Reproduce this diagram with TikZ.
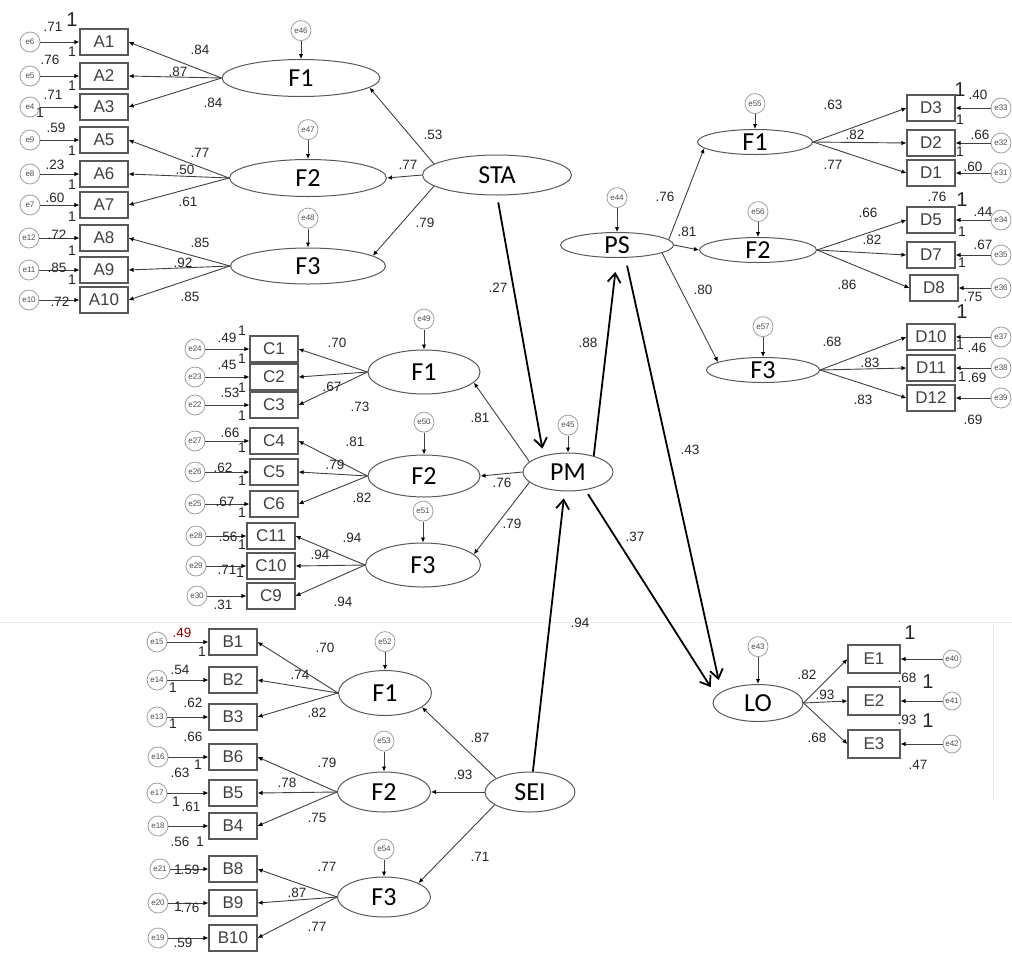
\documentclass[tikz,border=0pt]{standalone}
\usepackage{fontspec}
\newfontfamily\arialf{Liberation Sans}
\newfontfamily\calf{Carlito}
\usetikzlibrary{arrows.meta,positioning,shapes.geometric}

\begin{document}
\begin{tikzpicture}[x=1pt,y=-1pt,>=Latex,
  every node/.style={inner sep=0pt},
  ind/.style={draw=gray!70!black,line width=1.1pt,minimum width=48pt,minimum height=26pt,
    font=\arialf\fontsize{17}{17}\selectfont,text=black!75},
  lat/.style={ellipse,draw=gray!70!black,line width=1pt,text height=17pt,text depth=0pt,
    font=\calf\fontsize{26}{26}\selectfont},
  err/.style={circle,draw=gray!75,line width=0.8pt,minimum size=20pt,
    font=\arialf\fontsize{8}{8}\selectfont,text=gray!60!black},
  val/.style={font=\arialf\fontsize{13.5}{13.5}\selectfont,text=black!85},
  one/.style={font=\arialf\fontsize{14}{14}\selectfont,text=black!85},
  bigone/.style={font=\arialf\fontsize{20}{20}\selectfont,text=black!85},
  meas/.style={draw=gray!50!black,line width=0.9pt,-{Latex[length=5pt,width=4.5pt,color=black]}},
  struct/.style={black,line width=1.8pt,-{Straight Barb[length=9pt,width=13pt]}}]
\useasboundingbox (0,0) rectangle (1012,954);

% faint scan lines
\draw[gray!15,line width=1pt] (0,622) -- (1012,622);
\draw[gray!15,line width=1pt] (993,622) -- (993,800);

% latent variables
\node[lat,minimum width=158pt,minimum height=37pt] (staf1) at (301,78) {F1};
\node[lat,minimum width=157pt,minimum height=37pt] (staf2) at (308,178) {F2};
\node[lat,minimum width=155pt,minimum height=36pt] (staf3) at (308,266) {F3};
\node[lat,minimum width=149pt,minimum height=40pt] (sta) at (497,175) {STA};
\node[lat,minimum width=112pt,minimum height=44pt] (pmf1) at (424,372) {F1};
\node[lat,minimum width=112pt,minimum height=42pt] (pmf2) at (424,476) {F2};
\node[lat,minimum width=115pt,minimum height=44pt] (pmf3) at (423,565) {F3};
\node[lat,minimum width=90pt,minimum height=38pt] (pm) at (568,472) {PM};
\node[lat,minimum width=93pt,minimum height=45pt] (seif1) at (385,693) {F1};
\node[lat,minimum width=93pt,minimum height=40pt] (seif2) at (384,792) {F2};
\node[lat,minimum width=93pt,minimum height=40pt] (seif3) at (384,897) {F3};
\node[lat,minimum width=90pt,minimum height=40pt] (sei) at (530,792) {SEI};
\node[lat,minimum width=113pt,minimum height=25pt] (ps) at (617,245) {PS};
\node[lat,minimum width=115pt,minimum height=25pt] (psf1) at (755,142) {F1};
\node[lat,minimum width=117pt,minimum height=25pt] (psf2) at (758,250) {F2};
\node[lat,minimum width=113pt,minimum height=25pt] (psf3) at (763,370) {F3};
\node[lat,minimum width=90pt,minimum height=37pt] (lo) at (758,703) {LO};

% residuals of the latent variables
\node[err,above=18pt of staf1] (e46) {e46};
\node[err,above=19pt of staf2] (e47) {e47};
\node[err,above=19pt of staf3] (e48) {e48};
\node[err,above=20pt of pmf1] (e49) {e49};
\node[err,above=22pt of pmf2] (e50) {e50};
\node[err,above=21pt of pmf3] (e51) {e51};
\node[err,above=18pt of seif1] (e52) {e52};
\node[err,above=20pt of seif2] (e53) {e53};
\node[err,above=17pt of seif3] (e54) {e54};
\node[err,above=17pt of pm] (e45) {e45};
\node[err,above=24pt of ps] (e44) {e44};
\node[err,above=15pt of psf1] (e55) {e55};
\node[err,above=15pt of psf2] (e56) {e56};
\node[err,above=20pt of psf3] (e57) {e57};
\node[err,above=27pt of lo] (e43) {e43};
\foreach \e/\f in {e46/staf1,e47/staf2,e48/staf3,e49/pmf1,e50/pmf2,e51/pmf3,
  e52/seif1,e53/seif2,e54/seif3,e45/pm,e44/ps,e55/psf1,e56/psf2,e57/psf3,e43/lo}
  \draw[meas] (\e) -- (\f);

% indicators with their errors
\foreach \n/\e/\x/\ex/\y in {A1/e6/104/30/42,A2/e5/104/30/76,A3/e4/104/30/107,
  A5/e9/104/30/140,A6/e8/104/30/174,A7/e7/104/30/205,A8/e12/104/29/238,
  A9/e11/104/29/270,A10/e10/104/29/300,
  C1/e24/274/195/349,C2/e23/274/195/377,C3/e22/274/195/405,C4/e27/274/195/441,
  C5/e26/274/195/472,C6/e25/274/195/504,C11/e28/271/196/536,C10/e29/271/196/566,
  C9/e30/271/197/596,
  B1/e15/233/157/642,B2/e14/233/157/680,B3/e13/233/157/717,B6/e16/233/158/757,
  B5/e17/233/157/793,B4/e18/233/158/826,B8/e21/233/160/869,B9/e20/233/158/903,
  B10/e19/233/158/938,
  D3/e33/931/1001/108,D2/e32/931/1001/143,D1/e31/931/1001/173,D5/e34/931/1001/220,
  D7/e35/931/1001/255,D8/e36/934/1001/288,D10/e37/931/1001/337,D11/e38/931/1001/368,
  D12/e39/931/1001/398} {
  \node[ind] (\n) at (\x,\y) {\n};
  \node[err] (\e) at (\ex,\y) {\e};
  \draw[meas] (\e) -- (\n);
}
\foreach \n/\e/\y in {E1/e40/659,E2/e41/701,E3/e42/744} {
  \node[ind,minimum width=52pt,minimum height=28pt] (\n) at (874,\y) {\n};
  \node[err,minimum size=18pt] (\e) at (952,\y) {\e};
  \draw[meas] (\e) -- (\n);
}

% loadings
\foreach \f/\n in {staf1/A1,staf1/A2,staf1/A3,staf2/A5,staf2/A6,staf2/A7,
  staf3/A8,staf3/A9,staf3/A10,pmf1/C1,pmf1/C2,pmf1/C3,pmf2/C4,pmf2/C5,pmf2/C6,
  pmf3/C11,pmf3/C10,pmf3/C9,seif1/B1,seif1/B2,seif1/B3,seif2/B6,seif2/B5,seif2/B4,
  seif3/B8,seif3/B9,seif3/B10}
  \draw[meas] (\f.west) -- (\n.east);
\foreach \f/\n in {psf1/D3,psf1/D2,psf1/D1,psf2/D5,psf2/D7,psf2/D8,
  psf3/D10,psf3/D11,psf3/D12,lo/E1,lo/E2,lo/E3}
  \draw[meas] (\f.east) -- (\n.west);

% second order
\draw[meas] (sta.170) -- (staf1.-8);
\draw[meas] (sta.west) -- (staf2.east);
\draw[meas] (sta.190) -- (staf3.9);
\draw[meas] (pm.165) -- (pmf1.-12);
\draw[meas] (pm.west) -- (pmf2.east);
\draw[meas] (pm.195) -- (pmf3.12);
\draw[meas] (sei.158) -- (seif1.-21);
\draw[meas] (sei.west) -- (seif2.east);
\draw[meas] (sei.200) -- (seif3.22);
\draw[meas] (ps.6) -- (psf1.187);
\draw[meas] (ps.east) -- (psf2.west);
\draw[meas] (ps.-10) -- (psf3.170);

% structural paths
\draw[struct,shorten <=7pt,shorten >=7pt] (sta.south) -- (pm.146);
\draw[struct,shorten >=7pt] (sei.82) -- (pm.-100);
\draw[struct,shorten >=14pt] (pm.32) -- (ps.south);
\draw[struct,shorten <=8pt,shorten >=12pt] (ps.-57) -- (lo.163);
\draw[struct,shorten <=5pt,shorten >=10pt] (pm.-46) -- (lo.170);

% estimates
\foreach \x/\y/\t [count=\i] in {53/27/.71,50/60/.76,53/95/.71,56/128/.59,55/165/.23,
  55/198/.60,57/235/.72,57/268/.85,60/302/.72,
  200/50/.84,178/72/.87,213/103/.84,200/153/.77,185/170/.50,188/202/.61,
  200/243/.85,183/263/.92,190/297/.85,
  433/135/.53,408/165/.77,425/223/.79,498/288/.27,
  227/338/.49,227/365/.45,230/393/.53,230/433/.66,223/468/.62,225/502/.67,
  228/537/.56,227/570/.71,223/605/.31,
  337/343/.70,332/387/.67,360/407/.73,355/442/.81,335/465/.79,362/498/.82,
  352/538/.94,320/555/.94,343/602/.94,
  480/418/.81,502/483/.76,512/524/.79,588/343/.88,635/537/.37,690/450/.43,580/623/.94,
  180/670/.54,193/703/.62,193/737/.66,180/773/.63,191/807/.61,180/842/.56,
  190/870/.59,190/908/.76,183/943/.59,
  325/648/.70,300/675/.74,317/713/.82,327/763/.79,287/783/.78,317/818/.75,
  327/867/.77,297/893/.87,317/927/.77,
  480/738/.87,463/775/.93,480/857/.71,
  665/197/.76,687/232/.81,703/290/.80,
  833/105/.63,855/135/.82,833/165/.77,868/213/.66,872/240/.82,847/285/.86,
  832/342/.68,870/363/.83,863/400/.83,
  978/95/.40,980/135/.66,973/167/.60,937/197/.76,983/212/.44,983/245/.67,
  973/297/.75,977/348/.46,977/378/.69,973/420/.69,
  807/675/.82,825/695/.93,817/738/.68,907/678/.68,907/720/.93,918/765/.47}
  \node[val] (v\i) at (\x,\y) {\t};
\node[val,text=red!55!black] (vb1) at (182,633) {.49};

% fixed paths
\foreach \x/\y [count=\i] in {72/52,72/86,40/113,72/151,72/185,72/217,72/251,72/280,
  242/331,242/359,242/388,242/416,242/448,242/481,242/513,242/545,240/573,
  202/652,173/688,173/724,198/765,176/802,200/842,178/870,178/907,
  960/120,960/152,962/232,962/263,960/345,962/377}
  \node[one] (o\i) at (\x,\y) {1};
\foreach \x/\y [count=\i] in {72/20,960/90,962/200,962/312,910/633,928/682,928/721}
  \node[bigone] (bo\i) at (\x,\y) {1};
\end{tikzpicture}
\end{document}
